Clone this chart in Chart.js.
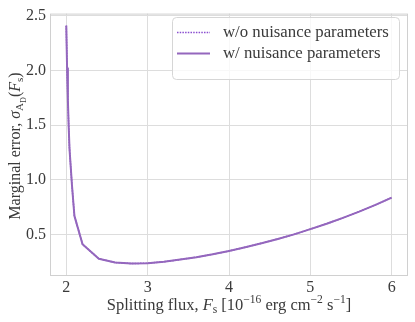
<!DOCTYPE html>
<html>
<head>
<meta charset="utf-8">
<script src="https://cdn.jsdelivr.net/npm/chart.js@4.4.1/dist/chart.umd.min.js"></script>
<style>
  html, body { margin: 0; padding: 0; background: #fff; }
  #wrap { width: 415px; height: 322px; }
</style>
</head>
<body>
<div id="wrap"><canvas id="errorChart" width="415" height="322"></canvas></div>
<script>
// Splitting flux grid, in 1e-16 erg cm^-2 s^-1
const fluxValues = [2.0, 2.01, 2.02, 2.03, 2.04, 2.07, 2.1, 2.2, 2.4, 2.6, 2.8, 3.0, 3.2, 3.4,
  3.6, 3.8, 4.0, 4.2, 4.4, 4.6, 4.8, 5.0, 5.2, 5.4, 5.6, 5.8, 6.0];
// marginal error without nuisance parameters (hidden under the solid line)
const errWithoutNuisance = [2.41, 2.02, 1.72, 1.48, 1.28, 0.95, 0.67, 0.41, 0.278, 0.243, 0.234,
  0.237, 0.250, 0.270, 0.292, 0.318, 0.349, 0.383, 0.420, 0.459, 0.501, 0.549, 0.598, 0.652,
  0.709, 0.771, 0.837];
// marginal error with nuisance parameters
const errWithNuisance = [2.41, 2.02, 1.72, 1.48, 1.28, 0.95, 0.67, 0.41, 0.278, 0.243, 0.234,
  0.237, 0.250, 0.270, 0.292, 0.318, 0.349, 0.383, 0.420, 0.459, 0.501, 0.549, 0.598, 0.652,
  0.709, 0.771, 0.837];
const xTickValues = [2, 3, 4, 5, 6];
const yTickValues = [0.5, 1.0, 1.5, 2.0, 2.5];
const legendLabels = ["w/o nuisance parameters", "w/ nuisance parameters"];

const FONT = "'Liberation Serif', serif";
const TEXT_COLOR = "#3a3a3a";
const GRID_COLOR = "#dddddd";
const LINE_COLOR = "#9467bd";
const DOT_COLOR = "#8a4fd0";

function toPoints(ys) {
  return fluxValues.map((x, i) => ({ x: x, y: ys[i] }));
}

// draw a label made of pieces (italic, sub/superscripts)
function drawRich(ctx, segs, cx, cy, size, angle) {
  ctx.save();
  ctx.translate(cx, cy);
  ctx.rotate(angle);
  let total = 0;
  const parts = segs.map((s) => {
    const fs = size * (s.scale || 1);
    const font = (s.italic ? "italic " : "") + fs + "px " + FONT;
    ctx.font = font;
    const w = ctx.measureText(s.text).width;
    total += w;
    return { text: s.text, font: font, w: w, dy: (s.dy || 0) * size };
  });
  let x = -total / 2;
  ctx.textAlign = "left";
  ctx.textBaseline = "alphabetic";
  ctx.fillStyle = TEXT_COLOR;
  parts.forEach((p) => {
    ctx.font = p.font;
    ctx.fillText(p.text, x, p.dy);
    x += p.w;
  });
  ctx.restore();
}

const xTitle = [
  { text: "Splitting flux, " },
  { text: "F", italic: true },
  { text: "s", scale: 0.7, dy: 0.2 },
  { text: " [10" },
  { text: "−16", scale: 0.7, dy: -0.4 },
  { text: " erg cm" },
  { text: "−2", scale: 0.7, dy: -0.4 },
  { text: " s" },
  { text: "−1", scale: 0.7, dy: -0.4 },
  { text: "]" },
];
const yTitle = [
  { text: "Marginal error, " },
  { text: "σ", italic: true },
  { text: "A", scale: 0.7, dy: 0.2 },
  { text: "D", scale: 0.5, dy: 0.35 },
  { text: "(" },
  { text: "F", italic: true },
  { text: "s", scale: 0.7, dy: 0.2 },
  { text: ")" },
];

const decorPlugin = {
  id: "decor",
  beforeDatasetsDraw(chart) {
    const { ctx, chartArea: a } = chart;
    ctx.save();
    ctx.strokeStyle = "#d0d0d0";
    ctx.lineWidth = 1;
    ctx.strokeRect(a.left + 0.5, a.top + 0.5, a.right - a.left - 1, a.bottom - a.top - 1);
    ctx.restore();
  },
  afterDraw(chart) {
    const ctx = chart.ctx;
    const a = chart.chartArea;
    // axis titles
    drawRich(ctx, xTitle, (a.left + a.right) / 2, 310, 16.5, 0);
    drawRich(ctx, yTitle, 20, 146, 16, -Math.PI / 2);

    // legend box, top right inside the axes
    const bx = 172, by = 17, bw = 227, bh = 62, r = 4;
    ctx.save();
    ctx.beginPath();
    ctx.roundRect(bx + 0.5, by + 0.5, bw, bh, r);
    ctx.fillStyle = "rgba(255,255,255,0.8)";
    ctx.fill();
    ctx.strokeStyle = "#d6d6d6";
    ctx.lineWidth = 1;
    ctx.stroke();

    const rows = [32.5, 53.5];
    legendLabels.forEach((label, i) => {
      ctx.beginPath();
      ctx.moveTo(177, rows[i]);
      ctx.lineTo(210, rows[i]);
      if (i === 0) {
        ctx.setLineDash([1.5, 1.2]);
        ctx.strokeStyle = DOT_COLOR;
        ctx.lineWidth = 1.5;
      } else {
        ctx.setLineDash([]);
        ctx.strokeStyle = LINE_COLOR;
        ctx.lineWidth = 2;
      }
      ctx.stroke();
      ctx.setLineDash([]);
      ctx.font = "16.8px " + FONT;
      ctx.fillStyle = TEXT_COLOR;
      ctx.textAlign = "left";
      ctx.textBaseline = "middle";
      ctx.fillText(label, 223, rows[i]);
    });
    ctx.restore();
  },
};

const ctx = document.getElementById("errorChart").getContext("2d");
new Chart(ctx, {
  type: "line",
  data: {
    datasets: [
      {
        label: legendLabels[0],
        data: toPoints(errWithoutNuisance),
        borderColor: DOT_COLOR,
        borderWidth: 1.5,
        borderDash: [1.5, 1.2],
        borderJoinStyle: "round",
        pointRadius: 0,
        tension: 0,
        fill: false,
        order: 1,
      },
      {
        label: legendLabels[1],
        data: toPoints(errWithNuisance),
        borderColor: LINE_COLOR,
        borderWidth: 2,
        borderJoinStyle: "round",
        pointRadius: 0,
        tension: 0,
        fill: false,
        order: 0,
      },
    ],
  },
  options: {
    responsive: false,
    animation: false,
    layout: { padding: { top: 10, right: 7, left: 0, bottom: 0 } },
    plugins: {
      legend: { display: false },
      tooltip: { enabled: false },
    },
    scales: {
      x: {
        type: "linear",
        min: 1.8,
        max: 6.2,
        afterBuildTicks: (s) => { s.ticks = xTickValues.map((v) => ({ value: v })); },
        afterFit: (s) => { s.height = 46; },
        ticks: {
          font: { family: FONT, size: 16 },
          color: TEXT_COLOR,
          padding: 2,
          maxRotation: 0,
          callback: (v) => String(v),
        },
        grid: { color: GRID_COLOR, drawTicks: false },
        border: { display: false },
      },
      y: {
        type: "linear",
        min: 0.12,
        max: 2.52,
        afterBuildTicks: (s) => { s.ticks = yTickValues.map((v) => ({ value: v })); },
        afterFit: (s) => { s.width = 50; },
        ticks: {
          font: { family: FONT, size: 16 },
          color: TEXT_COLOR,
          padding: 4,
          callback: (v) => v.toFixed(1),
        },
        grid: { color: GRID_COLOR, drawTicks: false },
        border: { display: false },
      },
    },
  },
  plugins: [decorPlugin],
});
</script>
</body>
</html>
